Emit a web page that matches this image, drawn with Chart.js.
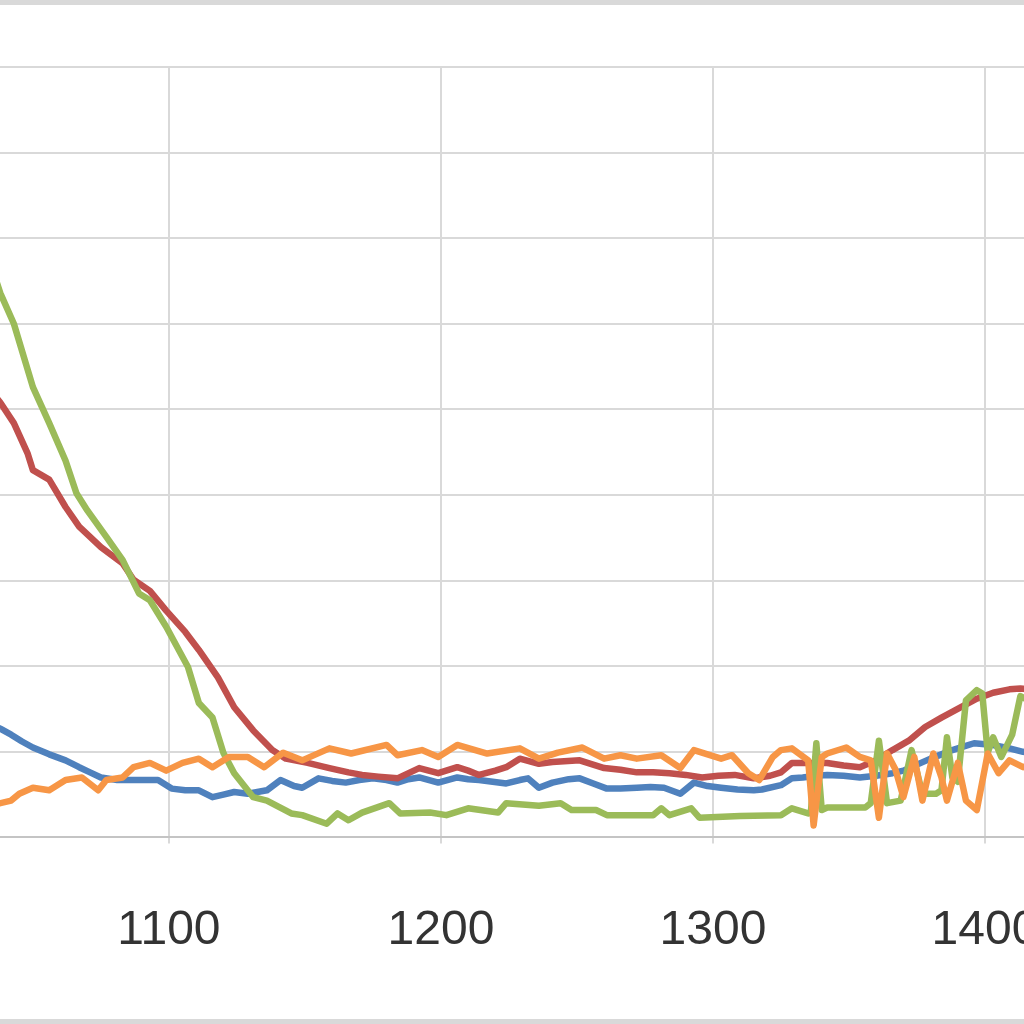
<!DOCTYPE html>
<html>
<head>
<meta charset="utf-8">
<script src="https://cdn.jsdelivr.net/npm/chart.js@4"></script>
<style>
  html, body { margin: 0; padding: 0; background: #fff; overflow: hidden; }
  body { width: 1024px; height: 1024px; position: relative; }
  .bar-top { position: absolute; left: 0; top: 0; width: 1024px; height: 5px; background: #d9d9d9; }
  .bar-bottom { position: absolute; left: 0; top: 1019px; width: 1024px; height: 5px; background: #d9d9d9; }
  #wrap { position: absolute; left: 0; top: 0; width: 1124px; height: 1024px; }
</style>
</head>
<body>
<div class="bar-top"></div>
<div id="wrap"><canvas id="chart"></canvas></div>
<div class="bar-bottom"></div>
<script>
// wavelength (nm) and values, one pair of arrays per series
const blueNm = [1036,1038,1042,1046,1050,1056,1062,1067,1071,1075,1081,1089,1096,1101,1106,1111,1116,1120,1124,1129,1136,1141,1146,1149,1155,1160,1165,1170,1175,1180,1184,1188,1192,1199,1206,1210,1214,1219,1224,1229,1232,1236,1241,1247,1251,1256,1261,1266,1272,1277,1282,1288,1293,1298,1303,1309,1315,1318,1325,1329,1333,1338,1342,1348,1354,1360,1366,1370,1375,1380,1384,1388,1392,1396,1403,1409,1414,1416];
const blueVal = [13.0,12.7,12.0,11.2,10.5,9.7,9.0,8.2,7.6,7.0,6.7,6.7,6.7,5.7,5.5,5.5,4.7,5.0,5.3,5.1,5.5,6.7,6.0,5.8,6.9,6.6,6.4,6.7,6.9,6.7,6.4,6.8,7.0,6.4,7.0,6.8,6.7,6.5,6.3,6.7,6.9,5.8,6.4,6.8,6.9,6.3,5.7,5.7,5.8,5.9,5.8,5.1,6.4,6.0,5.8,5.6,5.5,5.6,6.1,6.9,7.0,7.2,7.3,7.2,7.0,7.2,7.5,7.8,8.5,9.2,9.7,10.2,10.6,11.0,10.8,10.4,10.0,9.9];

const redNm = [1035,1038,1043,1048,1050,1056,1062,1067,1075,1083,1087,1093,1099,1106,1111,1118,1124,1131,1138,1143,1151,1159,1166,1171,1177,1184,1192,1199,1206,1210,1214,1220,1224,1229,1236,1241,1251,1260,1266,1272,1278,1284,1290,1296,1302,1308,1315,1317,1321,1325,1329,1334,1342,1348,1354,1360,1366,1372,1378,1384,1391,1397,1403,1409,1413,1416];
const redVal = [52.0,50.8,48.4,44.9,42.9,41.8,38.6,36.3,33.9,32.0,30.1,28.8,26.5,24.0,21.9,18.7,15.2,12.5,10.2,9.2,8.7,8.1,7.6,7.3,7.1,6.9,8.1,7.5,8.2,7.8,7.3,7.8,8.2,9.2,8.6,8.8,9.0,8.1,7.9,7.6,7.6,7.5,7.3,7.0,7.2,7.3,6.9,7.0,7.2,7.6,8.7,8.7,8.7,8.4,8.2,9.0,10.2,11.3,12.9,14.0,15.2,16.2,16.9,17.3,17.4,17.3];

const greenNm = [1035,1038,1043,1050,1056,1062,1066,1070,1077,1083,1089,1093,1099,1107,1111,1116,1120,1124,1131,1136,1145,1149,1158,1162,1166,1171,1181,1185,1196,1202,1210,1221,1224,1236,1244,1248,1257,1261,1278,1281,1284,1292,1295,1310,1325,1329,1335,1336,1338,1340,1342,1350,1356,1358,1361,1364,1369,1373,1377,1382,1384,1386,1388,1390,1393,1397,1399,1401,1403,1406,1410,1413,1416];
const greenVal = [66.5,63.6,60.0,52.6,48.4,44.0,40.2,38.2,35.1,32.4,28.5,27.7,24.6,19.9,15.7,14.0,9.9,7.5,4.7,4.3,2.8,2.6,1.6,2.8,2.0,2.9,4.0,2.8,2.9,2.6,3.4,2.9,4.0,3.7,4.0,3.2,3.2,2.6,2.6,3.4,2.6,3.4,2.3,2.5,2.6,3.4,2.8,3.0,11.0,3.2,3.5,3.5,3.5,4.0,11.3,4.0,4.3,10.2,5.1,5.1,5.5,11.7,7.0,6.5,16.0,17.2,16.8,9.9,11.7,9.4,12.0,16.5,16.0];

const orangeNm = [1036,1038,1042,1045,1050,1056,1062,1068,1074,1077,1083,1087,1093,1099,1105,1111,1116,1122,1129,1135,1142,1149,1159,1167,1180,1184,1193,1199,1206,1217,1229,1236,1243,1252,1260,1266,1272,1281,1288,1293,1303,1307,1313,1317,1322,1325,1329,1335,1337,1340,1342,1349,1354,1358,1361,1364,1367,1370,1374,1377,1381,1384,1386,1390,1393,1397,1401,1405,1409,1414,1416];
const orangeVal = [4.0,4.0,4.3,5.1,5.8,5.5,6.7,7.0,5.5,6.7,7.0,8.2,8.7,7.8,8.7,9.2,8.2,9.4,9.4,8.2,9.9,9.0,10.4,9.8,10.8,9.6,10.2,9.4,10.8,9.8,10.4,9.2,9.9,10.5,9.2,9.6,9.2,9.6,8.1,10.2,9.2,9.6,7.5,6.7,9.4,10.2,10.4,9.0,1.4,9.4,9.8,10.5,9.4,9.0,2.3,9.8,8.0,4.7,9.4,4.3,9.8,7.0,4.3,8.7,4.3,3.2,9.8,7.5,9.0,8.2,8.4];

// axis ticks
const xTicks = [1100, 1200, 1300, 1400];
const xMin = 1037.9;
const xMax = 1451.1;
const yMin = 0;
const yMax = 90;
const yStep = 10;

function pairs(xs, ys) {
    return xs.map((x, i) => ({ x: x, y: ys[i] }));
}

function series(xs, ys, color, order) {
    return {
        data: pairs(xs, ys),
        borderColor: color,
        borderWidth: 6.5,
        pointRadius: 0,
        tension: 0,
        borderJoinStyle: "round",
        borderCapStyle: "round",
        fill: false,
        order: order
    };
}

new Chart(document.getElementById("chart"), {
    type: "line",
    data: {
        datasets: [
            series(blueNm, blueVal, "#4F81BD", 4),
            series(redNm, redVal, "#C0504D", 3),
            series(greenNm, greenVal, "#9BBB59", 2),
            series(orangeNm, orangeVal, "#F79646", 1)
        ]
    },
    options: {
        responsive: true,
        maintainAspectRatio: false,
        animation: false,
        layout: { padding: { top: 67, bottom: 5, left: 0, right: 0 } },
        plugins: { legend: { display: false }, tooltip: { enabled: false } },
        scales: {
            x: {
                type: "linear",
                min: xMin,
                max: xMax,
                afterBuildTicks: (axis) => { axis.ticks = xTicks.map(v => ({ value: v })); },
                ticks: {
                    includeBounds: false,
                    padding: 59,
                    color: "#333333",
                    font: { family: "'Liberation Sans', Arial, sans-serif", size: 48 },
                    callback: (v) => String(v),
                    maxRotation: 0
                },
                grid: { color: "#d9d9d9", lineWidth: 2, tickLength: 6 },
                border: { color: "#c4c4c4", width: 2 }
            },
            y: {
                min: yMin,
                max: yMax,
                ticks: { display: false, stepSize: yStep },
                grid: { color: "#d9d9d9", lineWidth: 2, drawTicks: false },
                border: { display: false }
            }
        }
    }
});
</script>
</body>
</html>
